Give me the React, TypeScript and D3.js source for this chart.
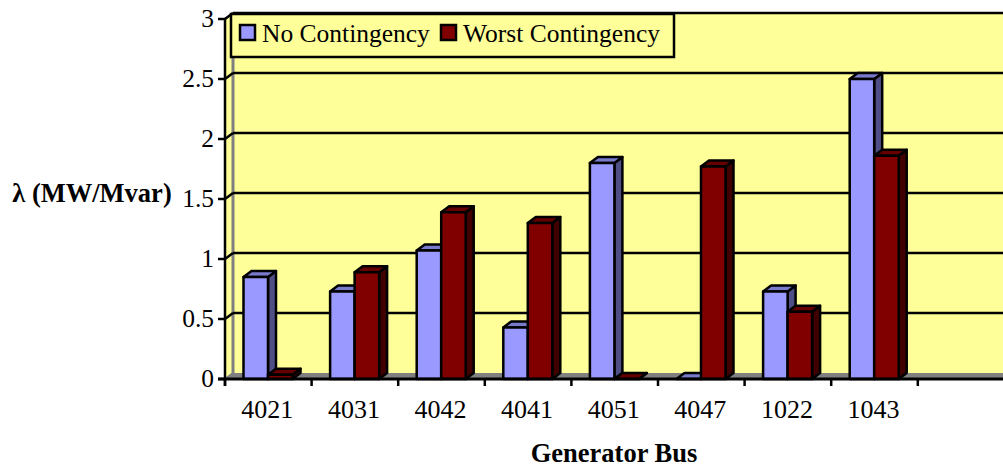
import React from "react";
import * as d3 from "d3";

const categories = ["4021", "4031", "4042", "4041", "4051", "4047", "1022", "1043", ""];
const noContingency = [0.85, 0.73, 1.07, 0.43, 1.8, 0, 0.73, 2.5];
const worstContingency = [0.035, 0.89, 1.39, 1.3, 0, 1.77, 0.56, 1.86];
const yTicks = [0, 0.5, 1, 1.5, 2, 2.5, 3];
const yTickLabels = ["0", "0.5", "1", "1.5", "2", "2.5", "3"];
const seriesNames = ["No Contingency", "Worst Contingency"];

const blue = { front: "#9999ff", side: "#4f4f85", top: "#7a7acc" };
const red = { front: "#800000", side: "#400000", top: "#660000" };
const FONT = "'Liberation Serif', serif";
const DX = 8;
const DY = -6;

const x = d3.scaleBand<string>().domain(categories).range([225, 225 + 86.6 * 9]).padding(0);
const y = d3.scaleLinear().domain([0, 3]).range([379, 19]);

function poly(points: [number, number][]) {
  return points.map((p) => p.join(",")).join(" ");
}

function Bar({ x0, w, value, colors }: { x0: number; w: number; value: number; colors: typeof blue }) {
  const yb = y(0);
  const yt = y(value);
  const x1 = x0 + w;
  return (
    <g stroke="#000" strokeWidth={2.5} strokeLinejoin="round">
      <polygon points={poly([[x1, yb], [x1 + DX, yb + DY], [x1 + DX, yt + DY], [x1, yt]])} fill={colors.side} />
      <polygon points={poly([[x0, yt], [x0 + DX, yt + DY], [x1 + DX, yt + DY], [x1, yt]])} fill={colors.top} />
      <rect x={x0} y={yt} width={w} height={yb - yt} fill={colors.front} />
    </g>
  );
}

export default function App() {
  const step = x.step();
  const barW = 24.5;
  const offset = 18.5;
  const ticksX = d3.range(0, 9).map((i) => 225 + i * step);
  return (
    <svg width={1003} height={468} style={{ position: "absolute", left: 0, top: 0, background: "#fff" }} fontFamily={FONT}>
      <rect x={225 + DX} y={19 + DY} width={800} height={360 + 0} fill="#ffff99" />
      <polygon points={poly([[225, 19], [225 + DX, 19 + DY], [225 + DX, 379 + DY], [225, 379]])} fill="#ffff99" />
      <polygon points={poly([[225, 379], [225 + DX, 379 + DY], [1003, 379 + DY], [1003, 379]])} fill="#808080" />
      <line x1={225 + DX} x2={225 + DX} y1={19 + DY} y2={379 + DY} stroke="#808080" strokeWidth={3} />
      <line x1={225} x2={225 + DX} y1={19} y2={19 + DY} stroke="#808080" strokeWidth={2} />
      <line x1={225} x2={225 + DX} y1={379} y2={379 + DY} stroke="#808080" strokeWidth={2} />

      {yTicks.slice(1).map((t) => (
        <g key={t} stroke="#000" strokeWidth={2.5}>
          <line x1={225 + DX} x2={1003} y1={y(t) + DY} y2={y(t) + DY} />
          <line x1={225} x2={225 + DX} y1={y(t)} y2={y(t) + DY} />
        </g>
      ))}

      {categories.slice(0, 8).map((c, i) => (
        <g key={c}>
          <Bar x0={x(c)! + offset} w={barW} value={noContingency[i]} colors={blue} />
          <Bar x0={x(c)! + offset + barW} w={barW} value={worstContingency[i]} colors={red} />
        </g>
      ))}

      <line x1={225} x2={225} y1={19} y2={386} stroke="#000" strokeWidth={2.5} />
      <line x1={218} x2={1003} y1={379} y2={379} stroke="#000" strokeWidth={3} />
      {yTicks.map((t, i) => (
        <g key={t}>
          <line x1={218} x2={225} y1={y(t)} y2={y(t)} stroke="#000" strokeWidth={2.5} />
          <text x={214} y={y(t) + 8} textAnchor="end" fontSize={25.5} fill="#000">
            {yTickLabels[i]}
          </text>
        </g>
      ))}
      {ticksX.map((tx) => (
        <line key={tx} x1={tx} x2={tx} y1={379} y2={386} stroke="#000" strokeWidth={2.5} />
      ))}
      {categories.slice(0, 8).map((c) => (
        <text key={c} x={x(c)! + step / 2 - 1} y={418} textAnchor="middle" fontSize={26} fill="#000">
          {c}
        </text>
      ))}

      <text x={614} y={462} textAnchor="middle" fontSize={26.5} fontWeight="bold" fill="#000">
        Generator Bus
      </text>
      <text x={92} y={202} textAnchor="middle" fontSize={26.5} fontWeight="bold" fill="#000">
        λ (MW/Mvar)
      </text>

      <rect x={231} y={14} width={443} height={43} fill="#ffff99" stroke="#000" strokeWidth={2.5} />
      <rect x={240} y={25} width={15} height={15} fill={blue.front} stroke="#000" strokeWidth={2.5} />
      <text x={262} y={42} fontSize={25.5} fill="#000">{seriesNames[0]}</text>
      <rect x={441} y={25} width={15} height={15} fill={red.front} stroke="#000" strokeWidth={2.5} />
      <text x={463} y={42} fontSize={25.5} fill="#000">{seriesNames[1]}</text>
    </svg>
  );
}
